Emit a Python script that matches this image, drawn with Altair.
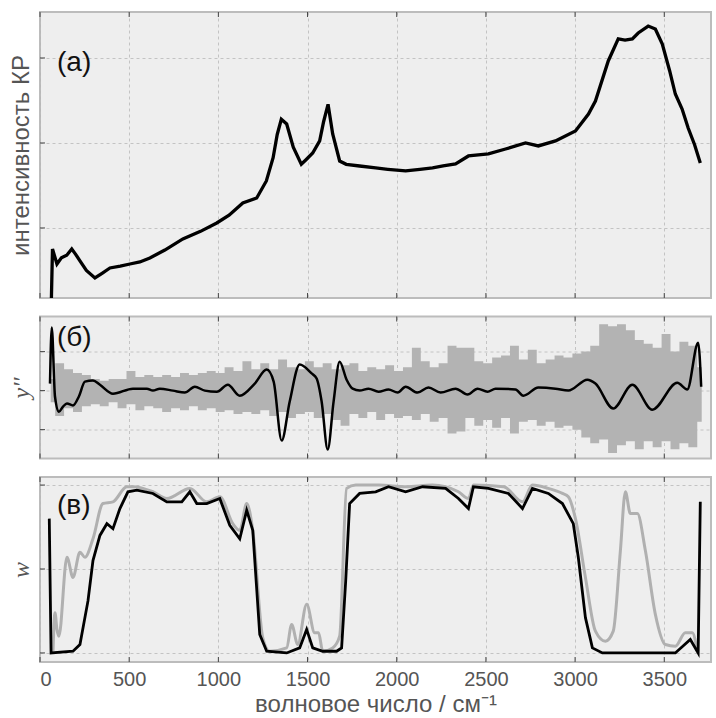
import altair as alt
import pandas as pd

# ---------------- shared x axis ----------------
X_TICKS = [0, 500, 1000, 1500, 2000, 2500, 3000, 3500]
X_DOMAIN = [0, 3762]

# ---------------- panel (a): Raman spectrum ----------------
A_WN = [64, 70, 95, 120, 150, 178, 200, 224, 260, 308, 350, 392, 450, 504, 560, 616, 700, 801,
        900, 991, 1060, 1137, 1215, 1269, 1307, 1330, 1353, 1383, 1420, 1465, 1490, 1529, 1568,
        1590, 1615, 1641, 1680, 1717, 1792, 1882, 1950, 2050, 2130, 2201, 2260, 2330, 2402, 2514,
        2610, 2722, 2794, 2890, 3002, 3075, 3114, 3186, 3242, 3280, 3321, 3354, 3410, 3450, 3489,
        3530, 3562, 3600, 3634, 3670, 3702]
A_INT = [176, 753, 576, 650, 680, 753, 690, 612, 500, 412, 470, 529, 550, 576, 600, 647, 740, 871,
         960, 1059, 1150, 1294, 1353, 1553, 1827, 2100, 2279, 2224, 1950, 1749, 1800, 1882, 2024,
         2250, 2455, 2106, 1788, 1749, 1729, 1706, 1690, 1671, 1690, 1706, 1730, 1753, 1847, 1871,
         1929, 2000, 1965, 2024, 2141, 2341, 2494, 2965, 3224, 3210, 3224, 3294, 3376, 3341, 3165,
         2850, 2576, 2400, 2176, 1980, 1765]
A_TICKS = [1000, 2000, 3000]
A_DOMAIN = [176, 3541]

# ---------------- panel (b): second derivative ----------------
B_WN = [56, 66, 84, 106, 129, 151, 185, 218, 252, 297, 336, 409, 521, 599, 633, 672, 745, 812,
        868, 924, 991, 1053, 1120, 1204, 1271, 1310, 1355, 1400, 1456, 1523, 1551, 1579, 1613,
        1646, 1680, 1719, 1753, 1792, 1842, 1898, 1954, 2005, 2050, 2117, 2178, 2246, 2330, 2397,
        2453, 2509, 2554, 2666, 2710, 2794, 2890, 2962, 3069, 3114, 3214, 3321, 3433, 3573, 3629,
        3690, 3707]
B_SMOOTH = [0.18, 1.62, -0.15, -0.54, -0.41, -0.33, -0.38, -0.15, 0.23, 0.26, 0.15, -0.08, 0.05,
            0.05, 0.0, 0.05, 0.0, -0.05, 0.1, 0.0, -0.03, 0.15, -0.13, 0.18, 0.54, 0.23, -1.28,
            -0.28, 0.67, 0.44, 0.31, -0.28, -1.51, -0.28, 0.74, 0.28, 0.05, 0.0, 0.05, -0.03, 0.03,
            -0.05, 0.1, -0.05, 0.08, -0.05, 0.05, -0.1, 0.05, -0.03, 0.05, 0.03, -0.13, 0.08, 0.05,
            0.0, 0.28, 0.18, -0.46, 0.15, -0.49, 0.2, 0.03, 1.23, 0.1]
B_NOISE_WN = list(range(60, 3711, 50))
B_NOISE_HI = [0.3, 0.7, 0.55, 0.45, 0.4, 0.3, 0.25, 0.3, 0.3, 0.5,
              0.35, 0.4, 0.35, 0.4, 0.35, 0.45, 0.4, 0.45, 0.5, 0.45,
              0.6, 0.5, 0.75, 0.55, 0.7, 0.55, 0.8, 0.6, 0.55, 0.75,
              0.6, 0.7, 0.55, 0.65, 0.7, 0.5, 0.6, 0.55, 0.65, 0.5,
              0.6, 1.1, 0.75, 0.6, 0.7, 1.15, 1.1, 1.1, 0.75, 0.7,
              0.85, 0.9, 1.15, 0.8, 1.05, 0.7, 0.8, 0.9, 0.85, 0.95,
              1.0, 1.15, 1.7, 1.65, 1.7, 1.55, 1.3, 1.2, 1.1, 1.45,
              1.0, 1.25, 1.15, 0.6]
B_NOISE_LO = [-0.3, -0.65, -0.45, -0.55, -0.4, -0.35, -0.4, -0.3, -0.45, -0.35,
              -0.5, -0.4, -0.45, -0.55, -0.45, -0.5, -0.4, -0.5, -0.45, -0.55,
              -0.5, -0.6, -0.55, -0.6, -0.5, -0.65, -0.55, -0.7, -0.6, -0.55,
              -0.7, -0.6, -0.75, -0.9, -0.6, -0.7, -0.55, -0.75, -0.6, -0.7,
              -0.65, -0.75, -0.6, -0.8, -0.7, -1.1, -1.05, -0.7, -0.9, -0.75,
              -0.95, -0.7, -1.1, -0.8, -0.75, -0.9, -0.8, -0.95, -0.9, -1.0,
              -1.2, -1.35, -1.25, -1.6, -1.4, -1.3, -1.5, -1.3, -1.45, -1.3,
              -1.5, -1.35, -1.45, -0.8]
B_TICKS = [-1, 0, 1]
B_DOMAIN = [-1.74, 1.9]

# ---------------- panel (c): weights ----------------
C_BLACK_WN = [52, 62, 185, 224, 269, 297, 336, 375, 409, 448, 493, 543, 633, 711, 795, 840, 879,
              935, 1008, 1064, 1120, 1159, 1193, 1232, 1271, 1383, 1456, 1495, 1529, 1585, 1663,
              1691, 1714, 1736, 1792, 1882, 1954, 2050, 2145, 2274, 2346, 2402, 2430, 2514, 2626,
              2705, 2761, 2850, 2929, 2990, 3018, 3058, 3097, 3153, 3562, 3646, 3690, 3702]
C_BLACK_W = [0.80, 0.0, 0.01, 0.05, 0.31, 0.55, 0.70, 0.77, 0.74, 0.86, 0.96, 0.97, 0.95, 0.90,
             0.90, 0.96, 0.89, 0.89, 0.92, 0.76, 0.68, 0.85, 0.73, 0.11, 0.01, 0.0, 0.03, 0.14,
             0.03, 0.01, 0.01, 0.03, 0.43, 0.89, 0.95, 0.96, 0.99, 0.96, 0.99, 0.98, 0.92, 0.86,
             0.99, 0.98, 0.95, 0.86, 0.98, 0.95, 0.89, 0.77, 0.57, 0.21, 0.03, 0.0, 0.0, 0.08,
             0.0, 0.90]
C_GRAY_WN = [73, 84, 95, 106, 151, 185, 224, 252, 297, 353, 409, 487, 521, 633, 711, 840, 935,
             1008, 1081, 1120, 1159, 1193, 1249, 1288, 1383, 1411, 1445, 1495, 1540, 1562, 1585,
             1641, 1680, 1719, 1770, 1900, 2050, 2200, 2346, 2402, 2430, 2600, 2705, 2761, 2850,
             2929, 2962, 3002, 3058, 3114, 3170, 3214, 3254, 3282, 3310, 3349, 3394, 3450, 3506,
             3562, 3618, 3657, 3685]
C_GRAY_W = [0.01, 0.24, 0.14, 0.10, 0.57, 0.45, 0.60, 0.57, 0.68, 0.89, 0.90, 0.99, 0.99, 0.96,
            0.92, 0.98, 0.90, 0.93, 0.77, 0.73, 0.89, 0.73, 0.09, 0.01, 0.03, 0.17, 0.05, 0.29,
            0.12, 0.12, 0.01, 0.03, 0.10, 0.98, 1.0, 1.0, 0.99, 1.0, 0.96, 0.92, 1.0, 0.99, 0.90,
            1.0, 0.98, 0.95, 0.93, 0.80, 0.45, 0.13, 0.07, 0.13, 0.61, 0.96, 0.83, 0.83, 0.61,
            0.23, 0.05, 0.04, 0.12, 0.12, 0.01]
C_TICKS = [0, 0.5, 1]
C_DOMAIN = [-0.054, 1.048]

# ---------------- styling helpers ----------------
W = 671
H_A, H_B, H_C = 286, 142, 185
FONT = "Liberation Sans"
TICK_COLOR = "#444444"


def xenc(field, show):
    if show:
        ax = alt.Axis(values=X_TICKS, grid=True, labels=True, ticks=False, domain=False,
                      title="волновое число / см⁻¹", labelFontSize=20, labelPadding=7,
                      titleFontSize=24, titlePadding=3, format="d")
    else:
        ax = alt.Axis(values=X_TICKS, grid=True, labels=False, ticks=False, domain=False,
                      title=None, labelPadding=0, tickSize=0, minExtent=0, maxExtent=0)
    return alt.X(f"{field}:Q", scale=alt.Scale(domain=X_DOMAIN, nice=False, zero=False), axis=ax)


def yenc(field, domain, ticks, title, font, style):
    ax = alt.Axis(values=ticks, grid=True, labels=False, ticks=False, domain=False, title=title,
                  titleFont=font, titleFontSize=24, titleFontStyle=style, titlePadding=7,
                  labelPadding=0, tickSize=0, minExtent=0)
    return alt.Y(f"{field}:Q", scale=alt.Scale(domain=domain, nice=False, zero=False), axis=ax)


def decorations(h, yfield, domain, ticks, title, font, style, label, label_y, show_x):
    xt = pd.DataFrame({"wn": X_TICKS})
    yt = pd.DataFrame({yfield: ticks})
    top = alt.Chart(xt).mark_rule(color=TICK_COLOR, strokeWidth=1).encode(
        x=xenc("wn", show_x), y=alt.value(0), y2=alt.value(5))
    bot = alt.Chart(xt).mark_rule(color=TICK_COLOR, strokeWidth=1).encode(
        x=xenc("wn", show_x), y=alt.value(h - 5), y2=alt.value(h))
    left = alt.Chart(yt).mark_rule(color=TICK_COLOR, strokeWidth=1).encode(
        y=yenc(yfield, domain, ticks, title, font, style), x=alt.value(0), x2=alt.value(5))
    txt = alt.Chart(pd.DataFrame({"t": [label]})).mark_text(
        align="left", baseline="middle", fontSize=28, font=FONT, color="#111111").encode(
        x=alt.value(17), y=alt.value(label_y), text="t:N")
    return [top, bot, left, txt]


# ---------------- panel (a) ----------------
df_a = pd.DataFrame({"wn": A_WN, "I": A_INT})
TITLE_A = "интенсивность КР"
line_a = alt.Chart(df_a).mark_line(color="black", strokeWidth=3.3).encode(
    x=xenc("wn", False), y=yenc("I", A_DOMAIN, A_TICKS, TITLE_A, FONT, "normal"))
panel_a = alt.layer(line_a, *decorations(H_A, "I", A_DOMAIN, A_TICKS, TITLE_A, FONT, "normal",
                                         "(a)", 51, False)).properties(width=W, height=H_A)

# ---------------- panel (b) ----------------
df_bn = pd.DataFrame({"wn": B_NOISE_WN, "hi": B_NOISE_HI, "lo": B_NOISE_LO})
df_bs = pd.DataFrame({"wn": B_WN, "d2": B_SMOOTH})
TITLE_B = "y''"
SERIF = "Liberation Serif"
noise_b = alt.Chart(df_bn).mark_area(color="#b3b3b3", opacity=1, interpolate="step").encode(
    x=xenc("wn", False), y=yenc("lo", B_DOMAIN, B_TICKS, TITLE_B, SERIF, "italic"), y2="hi:Q")
smooth_b = alt.Chart(df_bs).mark_line(color="black", strokeWidth=2.5, interpolate="monotone").encode(
    x=xenc("wn", False), y=yenc("d2", B_DOMAIN, B_TICKS, TITLE_B, SERIF, "italic"))
panel_b = alt.layer(noise_b, smooth_b,
                    *decorations(H_B, "d2", B_DOMAIN, B_TICKS, TITLE_B, SERIF, "italic",
                                 "(б)", 21, False)).properties(width=W, height=H_B)

# ---------------- panel (c) ----------------
df_cg = pd.DataFrame({"wn": C_GRAY_WN, "w": C_GRAY_W})
df_cb = pd.DataFrame({"wn": C_BLACK_WN, "w": C_BLACK_W})
TITLE_C = "w"
gray_c = alt.Chart(df_cg).mark_line(color="#b0b0b0", strokeWidth=3, interpolate="monotone").encode(
    x=xenc("wn", True), y=yenc("w", C_DOMAIN, C_TICKS, TITLE_C, SERIF, "italic"))
black_c = alt.Chart(df_cb).mark_line(color="black", strokeWidth=2.8, interpolate="linear").encode(
    x=xenc("wn", True), y=yenc("w", C_DOMAIN, C_TICKS, TITLE_C, SERIF, "italic"))
panel_c = alt.layer(gray_c, black_c,
                    *decorations(H_C, "w", C_DOMAIN, C_TICKS, TITLE_C, SERIF, "italic",
                                 "(в)", 29, True)).properties(width=W, height=H_C)

chart = alt.vconcat(panel_a, panel_b, panel_c, spacing=18.5, bounds="flush").properties(
    padding={"left": 8, "top": 10, "right": 0, "bottom": 0}
).configure_view(
    fill="#eeeeee", stroke="#bcbcbc", strokeWidth=2
).configure_axis(
    gridColor="#b8b8b8", gridDash=[3, 3], gridWidth=0.8,
    labelFont=FONT, labelColor="#555555", titleFont=FONT, titleColor="#555555",
    titleFontWeight="normal"
)

chart.save("out.html", embed_options={"renderer": "svg", "actions": False})
